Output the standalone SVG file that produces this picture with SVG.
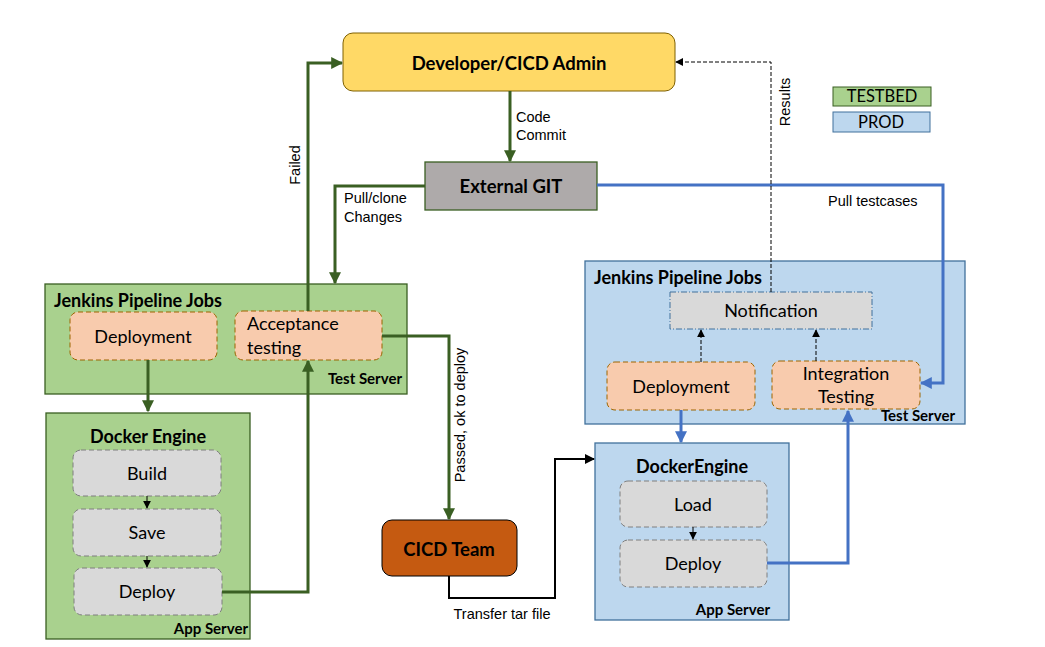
<svg xmlns="http://www.w3.org/2000/svg" width="1045" height="647" viewBox="0 0 1045 647">
<defs>
<marker id="ag" viewBox="0 0 10 10" refX="9" refY="5" markerWidth="4" markerHeight="4" markerUnits="strokeWidth" orient="auto"><path d="M0,0 L10,5 L0,10 z" fill="#3A5F23"/></marker>
<marker id="ab" viewBox="0 0 10 10" refX="9" refY="5" markerWidth="4" markerHeight="4" markerUnits="strokeWidth" orient="auto"><path d="M0,0 L10,5 L0,10 z" fill="#4472C4"/></marker>
<marker id="ak" viewBox="0 0 10 10" refX="9" refY="5" markerWidth="5" markerHeight="5" markerUnits="strokeWidth" orient="auto"><path d="M0,0 L10,5 L0,10 z" fill="#000"/></marker>
<marker id="ad" viewBox="0 0 10 10" refX="9" refY="5" markerWidth="8" markerHeight="8" markerUnits="strokeWidth" orient="auto"><path d="M0,0 L10,5 L0,10 z" fill="#000"/></marker>
</defs>
<style>
.t{font-family:Lato,"Liberation Sans",sans-serif;fill:#000}
.b{font-weight:bold}
.lbl{font-family:"Liberation Sans",Arial,sans-serif;font-size:14.5px;fill:#000}
.green{fill:#A9D18E;stroke:#3A5F23;stroke-width:1.3}
.blue{fill:#BDD7EE;stroke:#41719C;stroke-width:1.3}
.peach{fill:#F8CBAD;stroke:#9C6500;stroke-width:1;stroke-dasharray:5 3}
.grey{fill:#D9D9D9;stroke:#7F7F7F;stroke-width:1;stroke-dasharray:5 3}
.gl{fill:none;stroke:#3A5F23;stroke-width:3;marker-end:url(#ag)}
.bl{fill:none;stroke:#4472C4;stroke-width:3;marker-end:url(#ab)}
.kl{fill:none;stroke:#000;stroke-width:2;marker-end:url(#ak)}
.dl{fill:none;stroke:#000;stroke-width:1;stroke-dasharray:4 2;marker-end:url(#ad)}
.sl{fill:none;stroke:#000;stroke-width:1;marker-end:url(#ad)}
</style>
<rect width="1045" height="647" fill="#fff"/>

<g id="developer">
<rect x="343" y="33" width="332" height="58" rx="10" fill="#FFD966" stroke="#7F6000" stroke-width="1"/>
<text class="t b" x="509" y="70" font-size="18.5" text-anchor="middle">Developer/CICD Admin</text>
</g>

<g id="external-git">
<rect x="425" y="162" width="172" height="48" fill="#AEAAAA" stroke="#3A5F23" stroke-width="1.3"/>
<text class="t b" x="511" y="193" font-size="18.5" text-anchor="middle">External GIT</text>
</g>

<g id="jenkins-test">
<rect class="green" x="45" y="284" width="362" height="110"/>
<text class="t b" x="54" y="307" font-size="18">Jenkins Pipeline Jobs</text>
<text class="t b" x="402" y="384" font-size="15" text-anchor="end">Test Server</text>
</g>
<g id="deployment-left">
<rect class="peach" x="70" y="312" width="147" height="48" rx="8"/>
<text class="t" x="143" y="343" font-size="18" text-anchor="middle">Deployment</text>
</g>
<g id="acceptance">
<rect class="peach" x="235" y="311" width="147" height="49" rx="8"/>
<text class="t" x="247" y="330" font-size="18">Acceptance</text>
<text class="t" x="247" y="354" font-size="18">testing</text>
</g>

<g id="docker-left">
<rect class="green" x="46" y="413" width="204" height="226"/>
<text class="t b" x="148" y="443" font-size="18" text-anchor="middle">Docker Engine</text>
<text class="t b" x="248" y="634" font-size="15" text-anchor="end">App Server</text>
</g>
<g id="build">
<rect class="grey" x="73" y="450" width="148" height="46" rx="8"/>
<text class="t" x="147" y="480" font-size="18" text-anchor="middle">Build</text>
</g>
<g id="save">
<rect class="grey" x="73" y="509" width="148" height="47" rx="8"/>
<text class="t" x="147" y="539" font-size="18" text-anchor="middle">Save</text>
</g>
<g id="deploy-left">
<rect class="grey" x="74" y="568" width="148" height="47" rx="8"/>
<text class="t" x="147" y="598" font-size="18" text-anchor="middle">Deploy</text>
</g>

<g id="cicd-team">
<rect x="382" y="520" width="135" height="56" rx="10" fill="#C55A11" stroke="#000" stroke-width="1"/>
<text class="t b" x="449" y="556" font-size="18.5" text-anchor="middle">CICD Team</text>
</g>

<g id="jenkins-prod">
<rect class="blue" x="585" y="261" width="380" height="163"/>
<text class="t b" x="594" y="284" font-size="18">Jenkins Pipeline Jobs</text>
<text class="t b" x="955" y="421" font-size="15" text-anchor="end">Test Server</text>
</g>
<g id="notification">
<rect x="670" y="292" width="202" height="37" fill="#D9D9D9" stroke="#41719C" stroke-width="1" stroke-dasharray="6 2 1 2"/>
<text class="t" x="771" y="317" font-size="18" text-anchor="middle">Notification</text>
</g>
<g id="deployment-right">
<rect class="peach" x="607" y="362" width="148" height="48" rx="8"/>
<text class="t" x="681" y="393" font-size="18" text-anchor="middle">Deployment</text>
</g>
<g id="integration">
<rect class="peach" x="772" y="361" width="148" height="48" rx="8"/>
<text class="t" x="846" y="380" font-size="18" text-anchor="middle">Integration</text>
<text class="t" x="846" y="403" font-size="18" text-anchor="middle">Testing</text>
</g>

<g id="docker-right">
<rect class="blue" x="595" y="443" width="194" height="177"/>
<text class="t b" x="692" y="473" font-size="18" text-anchor="middle">DockerEngine</text>
<text class="t b" x="770" y="615" font-size="15" text-anchor="end">App Server</text>
</g>
<g id="load">
<rect class="grey" x="620" y="481" width="147" height="46" rx="8"/>
<text class="t" x="693" y="511" font-size="18" text-anchor="middle">Load</text>
</g>
<g id="deploy-right">
<rect class="grey" x="620" y="540" width="147" height="47" rx="8"/>
<text class="t" x="693" y="570" font-size="18" text-anchor="middle">Deploy</text>
</g>

<g id="legend-testbed">
<rect x="833" y="87" width="98" height="19" fill="#A9D18E" stroke="#3A5F23" stroke-width="1"/>
<text class="t" x="882" y="102" font-size="16.5" text-anchor="middle">TESTBED</text>
</g>
<g id="legend-prod">
<rect x="833" y="112" width="97" height="20" fill="#BDD7EE" stroke="#41719C" stroke-width="1"/>
<text class="t" x="881" y="128" font-size="16.5" text-anchor="middle">PROD</text>
</g>

<g id="connectors">
<path class="gl" d="M510,91 V161"/>
<path class="gl" d="M425,186 H335 V283"/>
<path class="gl" d="M308,311 V63 H342"/>
<path class="gl" d="M148,360 V411"/>
<path class="gl" d="M222,592 H308 V361"/>
<path class="gl" d="M382,336 H449 V519"/>
<path class="kl" d="M449,576 V598 H555 V459 H594"/>
<path class="bl" d="M597,185 H943 V383 H921"/>
<path class="bl" d="M681,410 V442"/>
<path class="bl" d="M767,563 H848 V411"/>
<path class="dl" d="M771,292 V62 H676"/>
<path class="dl" d="M701,362 V330"/>
<path class="dl" d="M816,361 V330"/>
<path class="sl" d="M147,496 V508"/>
<path class="sl" d="M147,556 V567"/>
<path class="sl" d="M693,527 V539"/>
<text class="lbl" x="516" y="122">Code</text>
<text class="lbl" x="516" y="140">Commit</text>
<text class="lbl" x="344" y="203">Pull/clone</text>
<text class="lbl" x="344" y="222">Changes</text>
<text class="lbl" transform="translate(300,165) rotate(-90)" text-anchor="middle">Failed</text>
<text class="lbl" transform="translate(465,415) rotate(-90)" text-anchor="middle">Passed,  ok to deploy</text>
<text class="lbl" transform="translate(790,102) rotate(-90)" text-anchor="middle">Results</text>
<text class="lbl" x="828" y="206">Pull testcases</text>
<text class="lbl" x="502" y="619" text-anchor="middle">Transfer tar file</text>
</g>
</svg>
